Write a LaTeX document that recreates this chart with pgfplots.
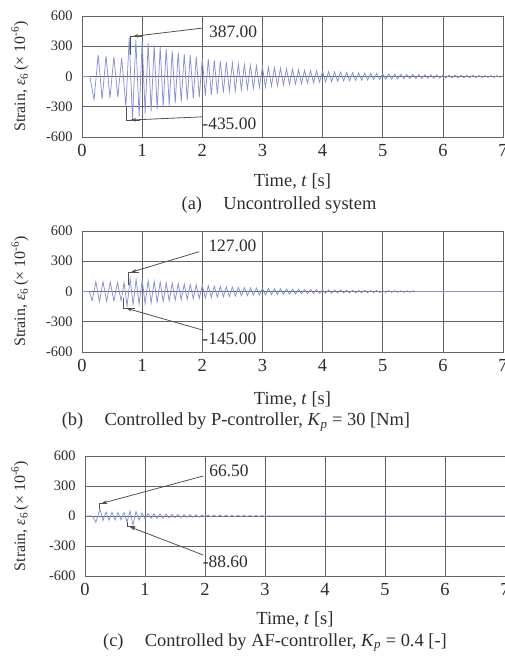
\documentclass[border=0pt]{standalone}
\usepackage{fontspec}
\setmainfont{Liberation Serif}
\usepackage{pgfplots}
\pgfplotsset{compat=1.18}
\usetikzlibrary{arrows.meta}

\definecolor{sig}{RGB}{135,145,212}
\definecolor{gridc}{RGB}{100,100,100}
\definecolor{txt}{RGB}{45,45,45}

\pgfplotsset{
  strain/.style={
    scale only axis, width=421bp, height=121bp,
    xmin=0, xmax=7, ymin=-600, ymax=600,
    xtick={0,1,...,7}, ytick={-600,-300,0,300,600},
    grid=major,
    major grid style={draw=gridc, line width=0.7bp},
    axis line style={draw=gridc, line width=0.8bp},
    major tick length=0pt,
    /pgf/number format/assume math mode=true,
    xticklabel style={font=\fontsize{18.5}{20}\selectfont, text=txt, yshift=-4bp},
    yticklabel style={font=\fontsize{14.5}{16}\selectfont, text=txt, xshift=-6bp},
    xlabel={Time, \textit{t} [s]},
    xlabel style={font=\fontsize{18.5}{20}\selectfont, text=txt,
      at={(axis description cs:0.5,0)}, anchor=center},
    ylabel={Strain, \textit{ε}\textsubscript{6}\,(× 10\textsuperscript{-6})},
    ylabel style={font=\fontsize{16}{18}\selectfont, text=txt,
      at={(axis description cs:-0.147,0.5)}, anchor=center},
  },
}
\tikzset{
  annot/.style={draw=gridc!80!black, line width=0.8bp},
  arr/.style={annot, -{Stealth[length=6bp,width=3.5bp]}},
  tip/.style={font=\fontsize{17.5}{19}\selectfont, text=txt, anchor=west, inner sep=0pt},
  capt/.style={font=\fontsize{18.5}{20}\selectfont, text=txt, anchor=base},
}

\begin{document}
\begin{tikzpicture}
\useasboundingbox (0,0) rectangle (505bp,662bp);

% (a) uncontrolled
\begin{axis}[strain, at={(82bp,525bp)}, anchor=south west, xlabel style={yshift=-45bp}]
\addplot[sig, line width=0.75bp] coordinates {
(0,0) (0.13,0) (0.20,-230) (0.27,215) (0.335,-225) (0.40,205) (0.465,-215) (0.53,195)
(0.595,-205) (0.66,185) (0.73,-300) (0.785,387) (0.84,-435) (0.895,365) (0.95,-390)
(1.00,351) (1.05,-367) (1.10,330) (1.15,-345) (1.20,309) (1.25,-324) (1.30,290) (1.35,-303) (1.40,272) (1.45,-285)
(1.50,255) (1.55,-267) (1.60,240) (1.65,-251) (1.70,225) (1.75,-235) (1.80,211) (1.85,-220) (1.90,198) (1.95,-207)
(2.00,186) (2.05,-194) (2.10,174) (2.15,-182) (2.20,163) (2.25,-171) (2.30,153) (2.35,-160) (2.40,144) (2.45,-150)
(2.50,135) (2.55,-141) (2.60,126) (2.65,-132) (2.70,119) (2.75,-124) (2.80,111) (2.85,-117) (2.90,104) (2.95,-109)
(3.00,98) (3.05,-103) (3.10,92) (3.15,-96) (3.20,86) (3.25,-91) (3.30,81) (3.35,-84) (3.40,76) (3.45,-80)
(3.50,71) (3.55,-75) (3.60,67) (3.65,-70) (3.70,63) (3.75,-66) (3.80,59) (3.85,-62) (3.90,55) (3.95,-57)
(4.00,52) (4.05,-54) (4.10,48) (4.15,-51) (4.20,45) (4.25,-48) (4.30,43) (4.35,-44) (4.40,40) (4.45,-42)
(4.50,38) (4.55,-39) (4.60,35) (4.65,-37) (4.70,33) (4.75,-35) (4.80,31) (4.85,-32) (4.90,29) (4.95,-30)
(5.00,27) (5.05,-28) (5.10,25) (5.15,-27) (5.20,24) (5.25,-25) (5.30,22) (5.35,-23) (5.40,21) (5.45,-22)
(5.50,20) (5.55,-21) (5.60,18) (5.65,-19) (5.70,17) (5.75,-18) (5.80,16) (5.85,-17) (5.90,15) (5.95,-16)
(6.00,14) (6.05,-15) (6.10,13) (6.15,-14) (6.20,12.6) (6.25,-13) (6.30,11.8) (6.35,-12) (6.40,11) (6.45,-11.5)
(6.50,10.4) (6.55,-10.8) (6.60,9.7) (6.65,-10.1) (6.70,9.1) (6.75,-9.5) (6.80,8.5) (6.85,-8.8) (6.90,8) (6.95,-8.3) (7.00,7.5)
};
\draw[annot] (0.80,215) -- (0.80,395) -- (1.0,395);
\draw[arr] (2.0,480) -- (0.84,397);
\draw[annot] (0.74,-300) -- (0.74,-432) -- (0.96,-432);
\draw[arr] (2.0,-400) -- (0.80,-432);
\node[tip] at (2.11,440) {387.00};
\node[tip] at (2.0,-465) {-435.00};
\end{axis}
\node[capt] at (279bp,452bp) {(a)\hspace{0.9em} Uncontrolled system};

% (b) P-controller
\begin{axis}[strain, at={(82bp,310bp)}, anchor=south west, xlabel style={yshift=-48bp}]
\addplot[sig, line width=0.75bp] coordinates {
(0,0) (0.12,0) (0.17,-90) (0.23,95) (0.29,-100) (0.35,95) (0.41,-97) (0.47,92) (0.53,-95)
(0.59,90) (0.65,-92) (0.70,88) (0.75,-145) (0.80,127) (0.85,-128) (0.90,120) (0.95,-125)
(1.00,115) (1.05,-121) (1.10,108) (1.15,-113) (1.20,101) (1.25,-106) (1.30,95) (1.35,-99) (1.40,89) (1.45,-94)
(1.50,84) (1.55,-87) (1.60,79) (1.65,-82) (1.70,74) (1.75,-78) (1.80,69) (1.85,-72) (1.90,65) (1.95,-68)
(2.00,61) (2.05,-64) (2.10,57) (2.15,-59) (2.20,53) (2.25,-56) (2.30,50) (2.35,-53) (2.40,47) (2.45,-50)
(2.50,44) (2.55,-46) (2.60,41) (2.65,-43) (2.70,39) (2.75,-41) (2.80,36) (2.85,-38) (2.90,34) (2.95,-36)
(3.00,32) (3.05,-33) (3.10,30) (3.15,-31) (3.20,28) (3.25,-30) (3.30,27) (3.35,-28) (3.40,25) (3.45,-26)
(3.50,23) (3.55,-25) (3.60,22) (3.65,-23) (3.70,21) (3.75,-22) (3.80,19) (3.85,-20) (3.90,18) (3.95,-18)
(4.00,17) (4.05,-17) (4.10,16) (4.15,-16) (4.20,15) (4.25,-15) (4.30,14) (4.35,-14) (4.40,13) (4.45,-14)
(4.50,12) (4.55,-13) (4.60,11) (4.65,-12) (4.70,11) (4.75,-11) (4.80,10) (4.85,-11) (4.90,9.5) (4.95,-10)
(5.00,8.9) (5.05,-9.3) (5.10,8.4) (5.15,-8.7) (5.20,7.8) (5.25,-8.2) (5.30,7.3) (5.35,-7.7) (5.40,6.9) (5.45,-7.2)
(5.50,6.5) (5.55,0) (7.00,0)
};
\draw[annot] (0.77,64) -- (0.77,190) -- (0.95,190);
\draw[arr] (1.95,395) -- (0.81,190);
\draw[annot] (0.69,-68) -- (0.69,-165) -- (0.88,-165);
\draw[arr] (2.02,-385) -- (0.73,-165);
\node[tip] at (2.10,455) {127.00};
\node[tip] at (2.0,-465) {-145.00};
\end{axis}
\node[capt] at (236bp,236bp) {(b)\hspace{0.9em} Controlled by P-controller, \textit{K}\textsubscript{\textit{p}} = 30 [Nm]};

% (c) AF-controller
\begin{axis}[strain, at={(85bp,86bp)}, anchor=south west, width=420bp, height=120bp,
  xlabel style={yshift=-44bp}, ylabel style={at={(axis description cs:-0.155,0.5)}}]
\addplot[sig, line width=0.75bp] coordinates {
(0,0) (0.12,0) (0.18,-62) (0.25,66.5) (0.30,-45) (0.35,40) (0.40,-42) (0.45,38) (0.50,-40)
(0.55,36) (0.60,-38) (0.65,35) (0.70,-60) (0.75,50) (0.80,-88.6) (0.85,45) (0.90,-40) (0.95,30)
(1.00,-28) (1.05,25) (1.10,-24) (1.15,23) (1.20,-22) (1.25,21) (1.30,-20) (1.35,19) (1.40,-18) (1.45,17)
(1.50,-16.5) (1.55,15.7) (1.60,-15) (1.65,14.3) (1.70,-13.6) (1.75,13) (1.80,-12.4) (1.85,11.8) (1.90,-11.2) (1.95,10.7)
(2.00,-10.2) (2.05,9.7) (2.10,-9.3) (2.15,8.8) (2.20,-8.4) (2.25,8) (2.30,-7.6) (2.35,7.3) (2.40,-6.9) (2.45,6.6)
(2.50,-6.3) (2.55,6) (2.60,-5.7) (2.65,5.5) (2.70,-5.2) (2.75,5) (2.80,-4.7) (2.85,4.5) (2.90,-4.3) (2.95,4.1)
(3.00,-3.9) (3.05,0) (7.00,0)
};
\draw[annot] (0.24,70) -- (0.24,125) -- (0.36,125);
\draw[arr] (1.97,400) -- (0.27,125);
\draw[annot] (0.71,-60) -- (0.71,-107) -- (0.83,-107);
\draw[arr] (1.97,-390) -- (0.74,-107);
\node[tip] at (2.07,455) {66.50};
\node[tip] at (1.96,-460) {-88.60};
\end{axis}
\node[capt] at (275bp,16bp) {(c)\hspace{0.9em} Controlled by AF-controller, \textit{K}\textsubscript{\textit{p}} = 0.4 [-]};
\end{tikzpicture}
\end{document}
